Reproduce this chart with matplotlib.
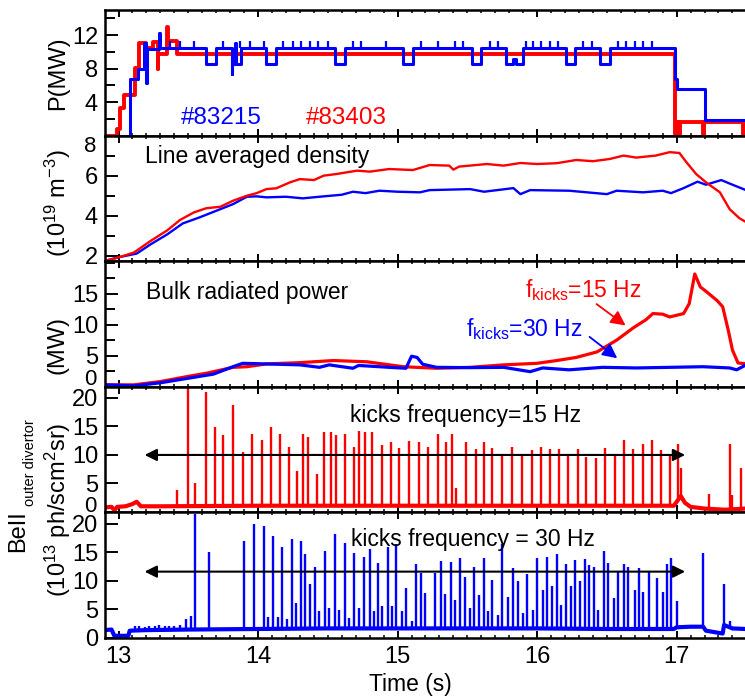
import numpy as np
import matplotlib
matplotlib.use('Agg')
import matplotlib.pyplot as plt
from matplotlib.ticker import MultipleLocator, FuncFormatter
import matplotlib.transforms as mtransforms

plt.rcParams['font.family'] = ['Liberation Sans', 'DejaVu Sans']
plt.rcParams['mathtext.default'] = 'regular'
plt.rcParams['font.size'] = 17

RED = '#ff0000'
BLUE = '#0000ff'

# ---- panel 1: heating power (MW), step traces
p_blue_t = [12.90, 13.08, 13.14, 13.18, 13.195, 13.205, 13.29, 13.30, 13.63, 13.70,
            13.81, 13.815, 13.825, 13.835, 13.845, 13.875, 14.06, 14.13, 14.55, 14.62,
            15.04, 15.11, 15.53, 15.60, 15.78, 15.83, 15.85, 15.90, 16.21, 16.27,
            16.45, 16.52, 16.99, 17.00, 17.20, 17.49]
p_blue = [0, 6.8, 8.0, 11.0, 6.3, 10.3, 12.2, 10.5, 8.6, 10.5,
          7.3, 10.0, 8.5, 11.0, 8.6, 10.5, 8.6, 10.5, 8.6, 10.5,
          8.6, 10.5, 8.6, 10.5, 8.6, 9.1, 8.6, 10.5, 8.6, 10.5,
          8.6, 10.5, 6.8, 5.5, 1.9, 1.9]
p_blue_spike_t = [13.37, 13.44, 13.54, 13.75, 13.87, 13.94, 14.04, 14.18, 14.25, 14.31,
                  14.37, 14.43, 14.50, 14.68, 14.74, 14.92, 15.17, 15.29, 15.41, 15.47,
                  15.66, 15.72, 15.92, 15.97, 16.03, 16.09, 16.15, 16.33, 16.39, 16.58,
                  16.64, 16.70, 16.76, 16.82]
p_red_t = [12.90, 12.99, 13.01, 13.04, 13.12, 13.15, 13.20, 13.25, 13.28, 13.285,
           13.35, 13.355, 13.42, 16.99, 17.00, 17.02, 17.025, 17.19, 17.195, 17.475,
           17.48, 17.49]
p_red = [0, 0.8, 3.3, 4.8, 8.1, 11.0, 10.4, 11.2, 7.9, 9.7,
         13.0, 11.3, 9.7, 0, 1.6, 0, 1.6, 0, 1.6, 0,
         1.6, 1.6]

# ---- panel 2: line averaged density (1e19 m^-3)
ne_red_t = [12.90, 13.01, 13.11, 13.23, 13.35, 13.44, 13.54, 13.63, 13.73, 13.82,
            13.92, 13.99, 14.06, 14.13, 14.23, 14.30, 14.40, 14.47, 14.56, 14.71,
            14.80, 14.94, 15.11, 15.23, 15.37, 15.40, 15.44, 15.64, 15.76, 15.88,
            16.00, 16.14, 16.28, 16.40, 16.52, 16.62, 16.71, 16.85, 16.95, 17.02,
            17.07, 17.14, 17.21, 17.31, 17.38, 17.45, 17.49]
ne_red = [1.75, 1.95, 2.17, 2.75, 3.28, 3.79, 4.17, 4.38, 4.45, 4.75,
          5.0, 5.13, 5.33, 5.37, 5.67, 5.83, 5.78, 6.0, 6.08, 6.25,
          6.2, 6.33, 6.28, 6.53, 6.5, 6.3, 6.45, 6.58, 6.5, 6.63,
          6.58, 6.62, 6.78, 6.72, 6.83, 7.0, 6.9, 7.0, 7.17, 7.13,
          6.67, 6.08, 5.67, 5.17, 4.33, 3.88, 3.72]
ne_blue_t = [12.90, 13.01, 13.13, 13.23, 13.35, 13.46, 13.58, 13.70, 13.82, 13.92,
             13.99, 14.06, 14.20, 14.32, 14.44, 14.60, 14.68, 14.77, 14.87, 15.00,
             15.16, 15.23, 15.52, 15.62, 15.83, 15.88, 15.95, 16.23, 16.50, 16.57,
             16.76, 16.90, 16.96, 17.05, 17.15, 17.21, 17.32, 17.40, 17.49]
ne_blue = [1.75, 1.95, 2.12, 2.58, 3.08, 3.62, 3.92, 4.25, 4.58, 4.95,
           4.97, 4.92, 4.95, 4.87, 4.95, 5.05, 5.2, 5.13, 5.25, 5.2,
           5.17, 5.28, 5.33, 5.2, 5.38, 5.08, 5.28, 5.25, 5.08, 5.25,
           5.17, 5.25, 5.13, 5.38, 5.7, 5.55, 5.78, 5.55, 5.3]

# ---- panel 3: bulk radiated power (MW)
prad_red_t = [12.90, 13.11, 13.30, 13.49, 13.63, 13.82, 13.92, 14.06, 14.30, 14.54,
              14.78, 15.04, 15.28, 15.52, 15.76, 16.00, 16.14, 16.28, 16.43, 16.57,
              16.69, 16.78, 16.83, 16.90, 16.95, 17.05, 17.09, 17.13, 17.17, 17.21,
              17.29, 17.33, 17.37, 17.40, 17.44, 17.49]
prad_red = [0.27, 0.27, 0.8, 1.6, 2.15, 3.1, 3.2, 3.65, 3.86, 4.2,
            4.0, 3.2, 2.95, 3.1, 3.5, 3.75, 4.2, 4.7, 5.6, 7.5,
            9.5, 10.8, 11.8, 11.7, 11.25, 11.8, 13.4, 18.2, 16.1, 15.4,
            13.9, 12.9, 9.1, 5.9, 3.8, 3.7]
prad_blue_t = [12.90, 13.11, 13.30, 13.49, 13.68, 13.82, 13.89, 14.06, 14.30, 14.44,
               14.51, 14.68, 14.72, 14.87, 14.94, 15.06, 15.10, 15.14, 15.18, 15.28,
               15.52, 15.76, 15.95, 16.04, 16.23, 16.47, 16.71, 16.95, 17.19, 17.38,
               17.43, 17.49]
prad_blue = [0.27, 0.1, 0.6, 1.3, 2.0, 3.2, 3.75, 3.65, 3.5, 3.1,
             3.5, 2.95, 3.4, 3.2, 3.1, 2.95, 4.9, 4.7, 3.6, 3.1,
             3.05, 3.1, 2.4, 3.0, 2.7, 3.1, 3.0, 3.1, 3.2, 3.0,
             2.7, 3.4]

# ---- panel 4: BeII, 15 Hz kicks (red)
be15_base_t = [12.90, 12.95, 12.97, 12.99, 13.05, 13.10, 13.13, 13.16, 13.30, 14.00,
               15.00, 16.00, 16.98, 17.03, 17.06, 17.10, 17.20, 17.35, 17.49]
be15_base = [0.8, 0.9, 0.3, 0.9, 1.0, 1.4, 1.8, 1.0, 1.0, 1.1,
             1.1, 1.1, 1.1, 2.8, 1.6, 0.9, 0.6, 0.4, 0.6]
be15_kick_t = [13.42, 13.50, 13.55, 13.63, 13.69, 13.75, 13.82, 13.89, 13.96, 14.03,
               14.09, 14.16, 14.22, 14.28, 14.32, 14.36, 14.42, 14.47, 14.52, 14.56,
               14.62, 14.69, 14.72, 14.77, 14.82, 14.89, 14.95, 15.01, 15.08, 15.15,
               15.22, 15.29, 15.35, 15.39, 15.42, 15.49, 15.56, 15.62, 15.68, 15.75,
               15.82, 15.89, 15.96, 16.03, 16.09, 16.16, 16.22, 16.29, 16.35, 16.42,
               16.49, 16.56, 16.62, 16.69, 16.76, 16.82, 16.89, 16.95, 17.01, 17.03,
               17.23, 17.38, 17.40, 17.46]
be15_kick = [3.9, 21.8, 5.0, 21.0, 14.9, 13.5, 18.8, 10.6, 13.7, 12.7,
             14.9, 13.6, 11.4, 7.1, 13.7, 13.1, 6.7, 14.0, 14.0, 13.5,
             13.7, 11.4, 14.2, 14.0, 14.1, 11.8, 12.2, 11.2, 12.5, 12.2,
             11.4, 13.7, 12.3, 13.6, 4.2, 12.2, 11.0, 12.2, 11.3, 10.1,
             11.4, 10.1, 10.8, 11.4, 11.1, 11.1, 9.9, 11.1, 9.6, 9.5,
             11.3, 10.2, 12.7, 11.1, 11.9, 12.7, 10.8, 9.8, 11.9, 7.7,
             3.1, 11.9, 2.9, 7.7]

# ---- panel 5: BeII, 30 Hz kicks (blue)
be30_base_t = [12.90, 12.95, 12.97, 13.07, 13.08, 13.20, 13.50, 14.00, 14.50, 15.00,
               15.50, 16.00, 16.50, 16.98, 17.00, 17.10, 17.19, 17.21, 17.33, 17.34,
               17.40, 17.49]
be30_base = [1.3, 1.4, 0.3, 0.3, 1.2, 1.3, 1.4, 1.5, 1.6, 1.6,
             1.6, 1.6, 1.5, 1.5, 1.8, 1.9, 1.9, 1.2, 0.7, 2.2,
             1.6, 1.5]
be30_kick_t = [13.12, 13.15, 13.19, 13.22, 13.26, 13.29, 13.33, 13.36, 13.40, 13.44,
               13.48, 13.52, 13.55, 13.65, 13.90, 13.97, 14.04, 14.07, 14.11, 14.14,
               14.17, 14.21, 14.24, 14.27, 14.31, 14.34, 14.37, 14.41, 14.44, 14.48,
               14.51, 14.55, 14.58, 14.62, 14.65, 14.69, 14.72, 14.76, 14.80, 14.83,
               14.86, 14.89, 14.93, 14.96, 14.99, 15.03, 15.06, 15.10, 15.13, 15.17,
               15.20, 15.27, 15.31, 15.34, 15.38, 15.41, 15.45, 15.48, 15.52, 15.55,
               15.58, 15.62, 15.65, 15.68, 15.72, 15.75, 15.79, 15.83, 15.86, 15.90,
               15.93, 15.97, 16.00, 16.04, 16.07, 16.11, 16.14, 16.17, 16.21, 16.24,
               16.27, 16.31, 16.34, 16.37, 16.41, 16.44, 16.48, 16.51, 16.55, 16.58,
               16.62, 16.65, 16.70, 16.73, 16.76, 16.80, 16.86, 16.90, 16.93, 16.96,
               17.00, 17.19, 17.34, 17.38]
be30_kick = [2.0, 2.1, 1.9, 2.1, 2.0, 2.2, 2.0, 2.1, 2.0, 2.2,
             3.2, 3.7, 21.7, 15.1, 17.0, 19.9, 19.7, 3.6, 17.9, 3.6,
             16.0, 3.2, 17.3, 6.0, 17.0, 14.7, 9.4, 12.5, 4.6, 15.2,
             5.2, 18.2, 4.8, 16.7, 3.5, 14.8, 5.2, 14.1, 15.6, 4.6,
             13.1, 5.5, 16.0, 5.5, 16.4, 4.6, 8.8, 2.9, 13.0, 11.4,
             7.8, 11.4, 13.4, 7.6, 13.3, 6.6, 14.0, 10.6, 5.2, 12.5,
             7.5, 14.0, 4.6, 10.2, 4.0, 16.4, 7.1, 12.3, 10.0, 4.3,
             11.1, 4.9, 14.0, 8.4, 14.1, 9.0, 14.7, 5.8, 12.9, 9.0,
             13.6, 10.0, 13.9, 12.8, 12.5, 4.9, 15.2, 13.1, 7.0, 11.5,
             13.0, 12.5, 8.4, 12.2, 8.1, 11.5, 10.4, 8.1, 12.9, 14.0,
             6.4, 14.9, 9.4, 2.9]

xticks = [13, 14, 15, 16, 17]

# ---- layout
W, H = 745.0, 697.0
fig = plt.figure(figsize=(W / 100, H / 100), dpi=100)
top_px, h_px, left_px = 10.0, 125.5, 105.0
axes = []
for i in range(5):
    y0 = 1 - (top_px + h_px * (i + 1)) / H
    ax = fig.add_axes([left_px / W, y0, (W - left_px) / W, h_px / H])
    axes.append(ax)


def blank(vals):
    return FuncFormatter(lambda v, p: '' if any(abs(v - b) < 1e-6 for b in vals) else '%g' % v)


def side_label(ax, val, text, dy):
    tr = mtransforms.blended_transform_factory(ax.transAxes, ax.transData) + \
        mtransforms.ScaledTranslation(-6 / 72, dy / 72, fig.dpi_scale_trans)
    ax.text(0, val, text, transform=tr, ha='right', va='center_baseline',
            fontsize=16, clip_on=False)


for i, ax in enumerate(axes):
    ax.set_xlim(12.903, 17.49)
    ax.set_xticks(xticks)
    ax.xaxis.set_minor_locator(MultipleLocator(0.1))
    ax.tick_params(axis='x', which='both', direction='in', top=True, bottom=True,
                   labelbottom=(i == 4), labelsize=17, pad=6)
    ax.tick_params(axis='x', which='major', length=5, width=1.4)
    ax.tick_params(axis='x', which='minor', length=2.5, width=1.1)
    ax.tick_params(axis='y', which='both', direction='in', left=True, right=False,
                   labelsize=17, pad=5, width=1.4)
    ax.tick_params(axis='y', which='major', length=9)
    ax.tick_params(axis='y', which='minor', length=7)
    for s in ax.spines.values():
        s.set_linewidth(1.8)
    ax.spines['right'].set_visible(False)

# panel 1
ax = axes[0]
ax.step(p_red_t, p_red, where='post', color=RED, lw=2.8)
ax.step(p_blue_t, p_blue, where='post', color=BLUE, lw=2.2)
ax.vlines(p_blue_spike_t, 10.5, 11.3, color=BLUE, lw=1.6)
ax.set_ylim(0, 15)
ax.set_yticks([0, 4, 8, 12])
ax.yaxis.set_minor_locator(MultipleLocator(2))
ax.yaxis.set_major_formatter(blank([0]))
ax.text(13.45, 1.4, '#83215', color=BLUE, fontsize=17.5)
ax.text(14.34, 1.4, '#83403', color=RED, fontsize=17.5)

# panel 2
ax = axes[1]
ax.plot(ne_blue_t, ne_blue, color=BLUE, lw=1.7)
ax.plot(ne_red_t, ne_red, color=RED, lw=1.7)
ax.set_ylim(1.75, 8)
ax.set_yticks([2, 4, 6, 8])
ax.yaxis.set_minor_locator(MultipleLocator(1))
ax.yaxis.set_major_formatter(blank([8]))
side_label(ax, 8, '8', -6)
ax.text(13.99, 6.63, 'Line averaged density', ha='center', fontsize=16.5)

# panel 3
ax = axes[2]
ax.plot(prad_red_t, prad_red, color=RED, lw=2.3)
ax.plot(prad_blue_t, prad_blue, color=BLUE, lw=2.3)
ax.set_ylim(0, 20.3)
ax.set_yticks([0, 5, 10, 15])
ax.yaxis.set_minor_locator(MultipleLocator(2.5))
ax.yaxis.set_major_formatter(blank([0]))
side_label(ax, 0, '0', 6.5)
ax.text(13.92, 14.2, 'Bulk radiated power', ha='center', fontsize=16.5)
ax.text(15.91, 14.5, 'f$_{kicks}$=15 Hz', color=RED, fontsize=16.5)
ax.text(15.49, 8.2, 'f$_{kicks}$=30 Hz', color=BLUE, fontsize=16.5)
ax.annotate('', xy=(16.65, 9.6), xytext=(16.41, 13.6),
            arrowprops=dict(arrowstyle='-|>', color=RED, lw=1.3, mutation_scale=22))
ax.annotate('', xy=(16.59, 4.3), xytext=(16.36, 8.3),
            arrowprops=dict(arrowstyle='-|>', color=BLUE, lw=1.3, mutation_scale=22))

# panel 4
ax = axes[3]
ax.plot(be15_base_t, be15_base, color=RED, lw=3)
ax.vlines(be15_kick_t, np.interp(be15_kick_t, be15_base_t, be15_base), be15_kick,
          color=RED, lw=1.7)
ax.set_ylim(0, 22)
ax.set_yticks([0, 5, 10, 15, 20])
ax.yaxis.set_major_formatter(blank([0]))
side_label(ax, 0, '0', 6)
ax.annotate('', xy=(13.187, 10), xytext=(17.061, 10),
            arrowprops=dict(arrowstyle='<|-|>', color='black', lw=1.5, mutation_scale=18,
                            shrinkA=0, shrinkB=0))
ax.text(15.49, 15.7, 'kicks frequency=15 Hz', ha='center', fontsize=16.5, zorder=5)

# panel 5
ax = axes[4]
ax.plot(be30_base_t, be30_base, color=BLUE, lw=3)
ax.vlines(be30_kick_t, np.interp(be30_kick_t, be30_base_t, be30_base), be30_kick,
          color=BLUE, lw=1.7)
ax.set_ylim(0, 22.1)
ax.set_yticks([0, 5, 10, 15, 20])
ax.annotate('', xy=(13.187, 11.6), xytext=(17.061, 11.6),
            arrowprops=dict(arrowstyle='<|-|>', color='black', lw=1.5, mutation_scale=18,
                            shrinkA=0, shrinkB=0))
ax.text(15.54, 16.2, 'kicks frequency = 30 Hz', ha='center', fontsize=16.5, zorder=5)

# axis titles
def ftxt(xp, yp, s, **kw):
    fig.text(xp / W, 1 - yp / H, s, ha='center', va='center', **kw)

ftxt(58, 73, 'P(MW)', rotation=90, fontsize=17)
ftxt(58, 203, '(10$^{19}$ m$^{-3}$)', rotation=90, fontsize=17)
ftxt(58, 345, '(MW)', rotation=90, fontsize=17)
ftxt(18, 531, 'BeII', rotation=90, fontsize=17)
ftxt(30, 463, 'outer divertor', rotation=90, fontsize=10.5)
ftxt(58, 510, '(10$^{13}$ ph/scm$^{2}$sr)', rotation=90, fontsize=17)
ftxt(410, 685, 'Time (s)', fontsize=16.5)

fig.savefig('out.png', dpi=100)
